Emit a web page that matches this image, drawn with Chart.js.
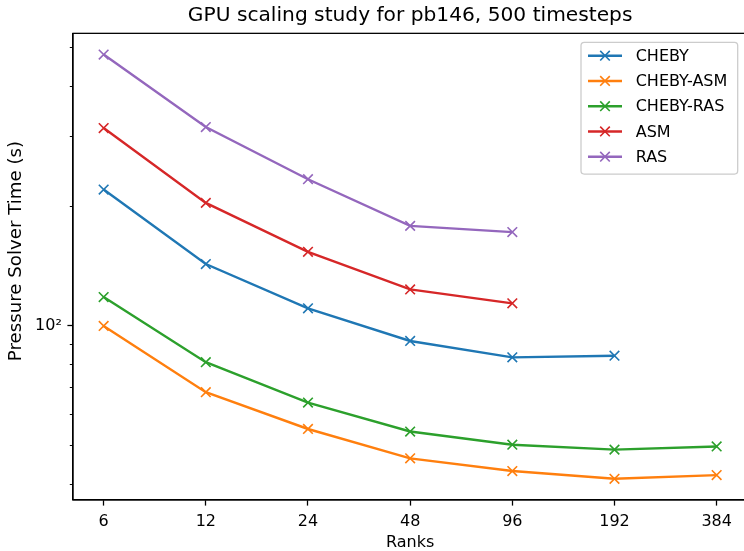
<!DOCTYPE html>
<html><head><meta charset="utf-8">
<script src="https://cdn.jsdelivr.net/npm/chart.js@4.4.1/dist/chart.umd.min.js"></script>
<style>html,body{margin:0;padding:0;overflow:hidden;background:#fff;width:744px;height:551px}#wrap{width:748px;height:551px;overflow:hidden}canvas{display:block}</style>
</head><body>
<div id="wrap"><canvas id="c" width="748" height="551" style="width:748px;height:551px"></canvas></div>
<script>
// ---- data ----
const ranks = [6, 12, 24, 48, 96, 192, 384];
const seriesNames = ['CHEBY', 'CHEBY-ASM', 'CHEBY-RAS', 'ASM', 'RAS'];
const cheby    = [220.2, 143.1, 110.8, 91.7, 83.4, 84.2];
const chebyAsm = [100.0, 68.2, 55.1, 46.5, 43.2, 41.3, 42.2];
const chebyRas = [118.2, 81.1, 64.2, 54.3, 50.3, 48.9, 49.8];
const asm      = [314.4, 203.9, 153.6, 123.6, 114.0];
const ras      = [481.0, 316.2, 233.8, 178.5, 172.2];
const xTicks = [6, 12, 24, 48, 96, 192, 384];
const yTicks = [40, 50, 60, 70, 80, 90, 100, 200, 300, 400, 500];
const yMajor = [100];
const yLabel = 'Pressure Solver Time (s)';

// ---- styling ----
const FONT = 'DejaVu Sans';
const colors = ['#1f77b4', '#ff7f0e', '#2ca02c', '#d62728', '#9467bd'];
const values = [cheby, chebyAsm, chebyRas, asm, ras];
const xMin = 6 * Math.pow(2, -0.3), xMax = 384 * Math.pow(2, 0.3);
const yMin = Math.pow(10, 1.5627), yMax = Math.pow(10, 2.7355);

const datasets = values.map((vals, i) => ({
  label: seriesNames[i],
  data: vals.map((v, j) => ({x: ranks[j], y: v})),
  borderColor: colors[i],
  backgroundColor: colors[i],
  borderWidth: 2.4,
  tension: 0,
  pointStyle: 'crossRot',
  pointRadius: 6.8,
  pointHoverRadius: 6.8,
  pointBorderWidth: 1.6,
  pointBorderColor: colors[i],
  fill: false,
  order: 5 - i
}));

function drawCross(ctx, x, y, r) {
  ctx.beginPath();
  ctx.moveTo(x - r, y - r); ctx.lineTo(x + r, y + r);
  ctx.moveTo(x + r, y - r); ctx.lineTo(x - r, y + r);
  ctx.stroke();
}

const framePlugin = {
  id: 'frameLegend',
  afterDraw(chart) {
    const {ctx, chartArea: a} = chart;
    ctx.save();
    ctx.strokeStyle = '#000';
    ctx.lineWidth = 1.28;
    ctx.strokeRect(a.left, a.top, a.right - a.left, a.bottom - a.top);
    // y axis label
    ctx.save();
    ctx.translate(16.7, 251);
    ctx.rotate(-Math.PI / 2);
    ctx.font = '18.2px "' + FONT + '"';
    ctx.fillStyle = '#000';
    ctx.textAlign = 'center';
    ctx.textBaseline = 'middle';
    ctx.fillText(yLabel, 0, 0);
    ctx.restore();
    // legend
    const w = 156.7, h = 131.7;
    const bx = a.right - 9.6 - w, by = a.top + 9;
    const r = 3.2;
    ctx.beginPath();
    ctx.moveTo(bx + r, by);
    ctx.lineTo(bx + w - r, by); ctx.arcTo(bx + w, by, bx + w, by + r, r);
    ctx.lineTo(bx + w, by + h - r); ctx.arcTo(bx + w, by + h, bx + w - r, by + h, r);
    ctx.lineTo(bx + r, by + h); ctx.arcTo(bx, by + h, bx, by + h - r, r);
    ctx.lineTo(bx, by + r); ctx.arcTo(bx, by, bx + r, by, r);
    ctx.closePath();
    ctx.fillStyle = 'rgba(255,255,255,0.8)';
    ctx.fill();
    ctx.strokeStyle = '#cccccc';
    ctx.lineWidth = 1.28;
    ctx.stroke();
    ctx.font = '16px "' + FONT + '"';
    ctx.textBaseline = 'middle';
    ctx.textAlign = 'left';
    chart.data.datasets.forEach((ds, i) => {
      const y = by + 13.4 + i * 25.25;
      ctx.strokeStyle = ds.borderColor;
      ctx.lineWidth = 2.4;
      ctx.beginPath();
      ctx.moveTo(bx + 7, y); ctx.lineTo(bx + 41, y);
      ctx.stroke();
      ctx.lineWidth = 1.6;
      drawCross(ctx, bx + 24, y, 4.8);
      ctx.fillStyle = '#000';
      ctx.fillText(ds.label, bx + 54.7, y + 1);
    });
    ctx.restore();
  }
};

const tickFont = {family: FONT, size: 16};

new Chart(document.getElementById('c'), {
  type: 'line',
  data: {datasets},
  plugins: [framePlugin],
  options: {
    responsive: false,
    devicePixelRatio: 1,
    animation: false,
    events: [],
    layout: {autoPadding: false, padding: {left: 0, right: 0.7, top: 0, bottom: 0}},
    plugins: {
      legend: {display: false},
      tooltip: {enabled: false},
      title: {
        display: true,
        text: 'GPU scaling study for pb146, 500 timesteps',
        fullSize: false,
        color: '#000',
        font: {family: FONT, size: 20.2, weight: 'normal'},
        padding: {top: 4, bottom: 5.1}
      }
    },
    scales: {
      x: {
        type: 'logarithmic',
        position: 'bottom',
        min: xMin, max: xMax,
        afterBuildTicks: s => { s.ticks = xTicks.map(v => ({value: v})); },
        afterFit: s => { s.height = 51; s.paddingLeft = 0; s.paddingRight = 0; },
        ticks: {
          callback: v => String(v),
          autoSkip: false, maxRotation: 0, minRotation: 0,
          color: '#000', font: tickFont, padding: 6.8
        },
        grid: {drawOnChartArea: false, drawTicks: true, tickLength: 5.6, tickColor: '#000', tickWidth: 1.28},
        border: {display: true, color: '#000', width: 1.28},
        title: {display: true, text: 'Ranks', color: '#000', font: tickFont, padding: {top: 0, bottom: -1.5}}
      },
      y: {
        type: 'logarithmic',
        position: 'left',
        min: yMin, max: yMax,
        afterBuildTicks: s => { s.ticks = yTicks.map(v => ({value: v})); },
        afterFit: s => { s.width = 73; s.paddingTop = 0; s.paddingBottom = 0; },
        ticks: {
          callback: v => (yMajor.includes(v) ? '10²' : ''),
          autoSkip: false, color: '#000', font: tickFont, padding: 5.6
        },
        grid: {
          drawOnChartArea: false, drawTicks: true, tickLength: 5.6, tickColor: '#000',
          tickWidth: c => (c.tick && yMajor.includes(c.tick.value) ? 1.28 : 0.96),
          tickBorderDash: c => (c.tick && yMajor.includes(c.tick.value) ? [] : [0, 2.4, 3.2, 100])
        },
        border: {display: true, color: '#000', width: 1.28},
        title: {display: false}
      }
    }
  }
});
</script>
</body></html>
